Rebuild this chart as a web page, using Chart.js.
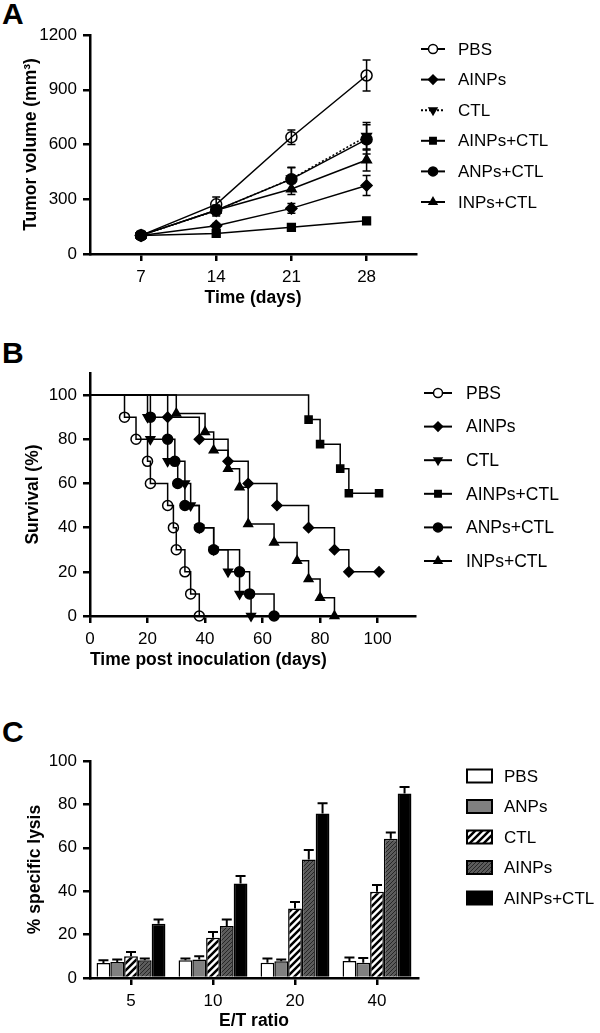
<!DOCTYPE html>
<html>
<head>
<meta charset="utf-8">
<script src="https://cdn.jsdelivr.net/npm/chart.js@4.4.0/dist/chart.umd.min.js"></script>
<style>
  html, body { margin: 0; padding: 0; background: #fff; width: 600px; height: 1033px; overflow: hidden; }
  .panel { position: absolute; left: 0; width: 600px; }
  .letter { position: absolute; left: 2px; font: bold 30px "Liberation Sans", Arial, sans-serif; line-height: 1; color: #000; }
</style>
</head>
<body>
<div class="letter" style="top:-1px">A</div>
<div class="letter" style="top:338px">B</div>
<div class="letter" style="top:717px">C</div>
<div class="panel" style="top:0;height:330px"><canvas id="chartA"></canvas></div>
<div class="panel" style="top:335px;height:340px"><canvas id="chartB"></canvas></div>
<div class="panel" style="top:690px;height:343px"><canvas id="chartC"></canvas></div>
<script>
// ---------- data ----------
const groupNames = ['PBS', 'AINPs', 'CTL', 'AINPs+CTL', 'ANPs+CTL', 'INPs+CTL'];

// A: tumour volume (mm3) by day
const daysA = [7, 14, 21, 28];
const volPBS      = [102, 272, 640, 978];
const volAINPs    = [102, 155, 250, 375];
const volCTL      = [102, 238, 412, 645];
const volAINPsCTL = [102, 113, 146, 182];
const volANPsCTL  = [102, 240, 410, 628];
const volINPsCTL  = [102, 240, 356, 515];
const errPBS      = [5, 40, 40, 85];
const errAINPs    = [5, 12, 27, 55];
const errCTL      = [5, 30, 60, 75];
const errAINPsCTL = [3, 8, 8, 10];
const errANPsCTL  = [5, 25, 65, 80];
const errINPsCTL  = [5, 20, 30, 60];

// B: survival, event days and survival (%) after each event
const ticksB_x  = [0, 20, 40, 60, 80, 100];
const ticksB_y  = [0, 20, 40, 60, 80, 100];
const tPBS      = [12, 16, 20, 21, 27, 29, 30, 33, 35, 38];
const sPBS      = [90, 80, 70, 60, 50, 40, 30, 20, 10, 0];
const tAINPs    = [27, 38, 48, 55, 65, 76, 85, 90];
const sAINPs    = [90, 80, 70, 60, 50, 40, 30, 20];
const tCTL      = [20, 21, 27, 33, 35, 38, 43, 48, 52, 56];
const sCTL      = [90, 80, 70, 60, 50, 40, 30, 20, 10, 0];
const tAINPsCTL = [76, 80, 87, 90];
const sAINPsCTL = [88.9, 77.8, 66.7, 55.6];
const tANPsCTL  = [21, 27, 29.5, 30.5, 33, 38, 43, 52, 55.5, 64];
const sANPsCTL  = [90, 80, 70, 60, 50, 40, 30, 20, 10, 0];
const tINPsCTL  = [30, 40, 43, 48, 52, 55, 64, 72, 76, 80, 85];
const sINPsCTL  = [91.7, 83.3, 75, 66.7, 58.3, 41.7, 33.3, 25, 16.7, 8.3, 0];
const censorDay = 100.5; // last follow-up for surviving groups

// C: % specific lysis by E/T ratio
const ratios = ['5', '10', '20', '40'];
const lysisNames = ['PBS', 'ANPs', 'CTL', 'AINPs', 'AINPs+CTL'];
const lysPBS      = [6.9, 8.2, 7.0, 7.8];
const lysANPs     = [7.4, 8.5, 7.7, 7.0];
const lysCTL      = [10, 18.6, 32, 39.7];
const lysAINPs    = [8.2, 24, 54.6, 64.2];
const lysAINPsCTL = [25, 43.5, 75.8, 85];
const sdPBS      = [1.3, 0.8, 2.0, 1.6];
const sdANPs     = [1.1, 1.5, 0.8, 2.2];
const sdCTL      = [2.0, 2.6, 3.0, 3.1];
const sdAINPs    = [0.8, 3.0, 4.4, 2.8];
const sdAINPsCTL = [2.0, 3.5, 4.7, 3.0];

// ---------- styling helpers ----------
const FONT = '"Liberation Sans", Arial, sans-serif';
const TICK_SIZE = 17;
const markers = [
  {pointStyle: 'circle',   rotation: 0,   fill: 'rgba(0,0,0,0)'},
  {pointStyle: 'rectRot',  rotation: 0,   fill: '#000'},
  {pointStyle: 'triangle', rotation: 180, fill: '#000'},
  {pointStyle: 'rect',     rotation: 0,   fill: '#000'},
  {pointStyle: 'circle',   rotation: 0,   fill: '#000'},
  {pointStyle: 'triangle', rotation: 0,   fill: '#000'}
];

function hatch(bg, fg, size, lw) {
  const c = document.createElement('canvas');
  c.width = c.height = size;
  const g = c.getContext('2d');
  g.fillStyle = bg;
  g.fillRect(0, 0, size, size);
  g.strokeStyle = fg;
  g.lineWidth = lw;
  g.beginPath();
  g.moveTo(-1, size + 1); g.lineTo(size + 1, -1);
  g.moveTo(-1, 1); g.lineTo(1, -1);
  g.moveTo(size - 1, size + 1); g.lineTo(size + 1, size - 1);
  g.stroke();
  return g.createPattern(c, 'repeat');
}

function tickOpts(extra) {
  return Object.assign({color: '#000', font: {family: FONT, size: TICK_SIZE}, padding: 6}, extra);
}

function axisCommon(extra) {
  return Object.assign({
    grid: {drawOnChartArea: false, tickLength: 7, lineWidth: 2.5, color: '#000'},
    border: {width: 2.5, color: '#000'},
    ticks: tickOpts({})
  }, extra);
}

function title(text, pad, align) {
  return {display: true, text: text, color: '#000', align: align || 'center',
    font: {family: FONT, size: 17.5, weight: 'bold'}, padding: pad};
}

// error bars (both ways, or up only for bars)
const errorBars = {
  id: 'errorBars',
  beforeDatasetsDraw(chart, args, opts) {
    const ctx = chart.ctx;
    ctx.save();
    ctx.strokeStyle = '#000';
    ctx.lineWidth = opts.lineWidth || 1.5;
    chart.data.datasets.forEach((ds, i) => {
      if (!ds.errors) return;
      const meta = chart.getDatasetMeta(i);
      const ys = chart.scales[meta.yAxisID];
      meta.data.forEach((el, j) => {
        const raw = ds.data[j];
        const v = typeof raw === 'object' ? raw.y : raw;
        const e = ds.errors[j];
        const top = ys.getPixelForValue(v + e);
        const bot = opts.upOnly ? el.y : ys.getPixelForValue(v - e);
        const w = opts.cap || 4;
        ctx.beginPath();
        ctx.moveTo(el.x, bot); ctx.lineTo(el.x, top);
        ctx.moveTo(el.x - w, top); ctx.lineTo(el.x + w, top);
        if (!opts.upOnly) { ctx.moveTo(el.x - w, bot); ctx.lineTo(el.x + w, bot); }
        ctx.stroke();
      });
    });
    ctx.restore();
  }
};

// legend at right side
const sideLegend = {
  id: 'sideLegend',
  afterDraw(chart, args, o) {
    const ctx = chart.ctx;
    ctx.save();
    chart.data.datasets.forEach((ds, i) => {
      const y = o.top + i * o.gap;
      if (o.kind === 'box') {
        ctx.fillStyle = ds.backgroundColor;
        ctx.fillRect(o.x0, y - o.h / 2, o.x1 - o.x0, o.h);
        ctx.strokeStyle = '#000';
        ctx.lineWidth = 2;
        ctx.strokeRect(o.x0, y - o.h / 2, o.x1 - o.x0, o.h);
      } else {
        const dotted = ds.borderDash && ds.borderDash.length > 0;
        ctx.strokeStyle = '#000';
        ctx.lineWidth = 2;
        ctx.setLineDash(dotted ? [2, 2] : []);
        ctx.beginPath();
        ctx.moveTo(o.x0, y); ctx.lineTo(o.x1, y);
        ctx.stroke();
        ctx.setLineDash([]);
        ctx.fillStyle = ds.pointBackgroundColor === 'rgba(0,0,0,0)' ? '#fff' : '#000';
        ctx.lineWidth = 1.5;
        Chart.helpers.drawPoint(ctx, {pointStyle: ds.pointStyle, rotation: ds.pointRotation, radius: o.r, borderWidth: 1.5}, (o.x0 + o.x1) / 2, y);
      }
      ctx.fillStyle = '#000';
      ctx.font = o.fontSize + 'px ' + FONT;
      ctx.textBaseline = 'middle';
      ctx.textAlign = 'left';
      ctx.fillText(ds.label, o.textX, y + 1);
    });
    ctx.restore();
  }
};

const baseOpts = {
  animation: false,
  responsive: true,
  maintainAspectRatio: false,
  events: []
};

// ---------- A ----------
const volA = [volPBS, volAINPs, volCTL, volAINPsCTL, volANPsCTL, volINPsCTL];
const errA = [errPBS, errAINPs, errCTL, errAINPsCTL, errANPsCTL, errINPsCTL];
new Chart(document.getElementById('chartA'), {
  type: 'line',
  data: {
    datasets: groupNames.map((name, i) => ({
      label: name,
      data: daysA.map((d, j) => ({x: d, y: volA[i][j]})),
      errors: errA[i],
      borderColor: '#000',
      borderWidth: 1.5,
      borderDash: i === 2 ? [2, 2] : [],
      pointStyle: markers[i].pointStyle,
      pointRotation: markers[i].rotation,
      pointRadius: 5.5,
      pointBorderWidth: 1.5,
      pointBorderColor: '#000',
      pointBackgroundColor: markers[i].fill,
      clip: false
    }))
  },
  options: Object.assign({}, baseOpts, {
    layout: {padding: {top: 35, right: 184, left: 0, bottom: 0}},
    scales: {
      x: axisCommon({
        type: 'linear', min: 2.25, max: 32.6,
        afterBuildTicks: s => { s.ticks = daysA.map(v => ({value: v})); },
        afterFit: s => { s.height = 76; },
        title: title('Time (days)', {top: 0, bottom: 21})
      }),
      y: axisCommon({
        type: 'linear', min: 0, max: 1200,
        ticks: tickOpts({stepSize: 300, callback: v => String(v)}),
        afterFit: s => { s.width = 90; },
        title: title('Tumor volume (mm³)', {top: 21, bottom: 0})
      })
    },
    plugins: {
      legend: {display: false}, tooltip: {enabled: false},
      errorBars: {cap: 4, lineWidth: 1.5},
      sideLegend: {top: 49, gap: 30.6, x0: 421, x1: 445, textX: 458, r: 4.5, fontSize: 17}
    }
  }),
  plugins: [errorBars, sideLegend]
});

// ---------- B ----------
function kmPoints(t, s, end) {
  const pts = [{x: 0, y: 100}];
  t.forEach((d, i) => pts.push({x: d, y: s[i]}));
  if (end !== undefined) pts.push({x: end, y: s[s.length - 1]});
  return pts;
}
const kmData = [
  kmPoints(tPBS, sPBS),
  kmPoints(tAINPs, sAINPs, censorDay),
  kmPoints(tCTL, sCTL),
  kmPoints(tAINPsCTL, sAINPsCTL, censorDay),
  kmPoints(tANPsCTL, sANPsCTL),
  kmPoints(tINPsCTL, sINPsCTL)
];
new Chart(document.getElementById('chartB'), {
  type: 'line',
  data: {
    datasets: groupNames.map((name, i) => ({
      label: name,
      data: kmData[i],
      stepped: 'before',
      borderColor: '#000',
      borderWidth: 1.5,
      pointStyle: markers[i].pointStyle,
      pointRotation: markers[i].rotation,
      pointRadius: kmData[i].map((p, j) => j === 0 ? 0 : 5),
      pointBorderWidth: 1.5,
      pointBorderColor: '#000',
      pointBackgroundColor: markers[i].fill,
      clip: false
    }))
  },
  options: Object.assign({}, baseOpts, {
    layout: {padding: {top: 38, right: 185, left: 0, bottom: 0}},
    scales: {
      x: axisCommon({
        type: 'linear', min: 0, max: 113,
        afterBuildTicks: s => { s.ticks = ticksB_x.map(v => ({value: v})); },
        afterFit: s => { s.height = 59; },
        title: title('Time post inoculation (days)', {top: 0, bottom: 4}, 'start')
      }),
      y: axisCommon({
        type: 'linear', min: 0, max: 110,
        afterBuildTicks: s => { s.ticks = ticksB_y.map(v => ({value: v})); },
        afterFit: s => { s.width = 90; },
        title: title('Survival (%)', {top: 23, bottom: 0})
      })
    },
    plugins: {
      legend: {display: false}, tooltip: {enabled: false},
      sideLegend: {top: 58, gap: 33.6, x0: 424, x1: 452, textX: 466, r: 4.5, fontSize: 17.5}
    }
  }),
  plugins: [sideLegend]
});

// ---------- C ----------
const lysC = [lysPBS, lysANPs, lysCTL, lysAINPs, lysAINPsCTL];
const sdC = [sdPBS, sdANPs, sdCTL, sdAINPs, sdAINPsCTL];
const fillsC = ['#fff', '#808080', hatch('#fff', '#000', 7, 2.5), hatch('#5c5c5c', '#262626', 4, 1), '#000'];
new Chart(document.getElementById('chartC'), {
  type: 'bar',
  data: {
    labels: ratios,
    datasets: lysisNames.map((name, i) => ({
      label: name,
      data: lysC[i],
      errors: sdC[i],
      backgroundColor: fillsC[i],
      borderColor: '#000',
      borderWidth: 1.5,
      barPercentage: 1,
      categoryPercentage: 0.84
    }))
  },
  options: Object.assign({}, baseOpts, {
    layout: {padding: {top: 71, right: 182, left: 0, bottom: 0}},
    scales: {
      x: axisCommon({
        type: 'category',
        grid: {drawOnChartArea: false, tickLength: 7, lineWidth: 2.5, color: '#000', offset: false},
        afterFit: s => { s.height = 55; },
        title: title('E/T ratio', {top: 0, bottom: 1})
      }),
      y: axisCommon({
        type: 'linear', min: 0, max: 100,
        ticks: tickOpts({stepSize: 20}),
        afterFit: s => { s.width = 90; },
        title: title('% specific lysis', {top: 25, bottom: 0})
      })
    },
    plugins: {
      legend: {display: false}, tooltip: {enabled: false},
      errorBars: {cap: 5, lineWidth: 2, upOnly: true},
      sideLegend: {kind: 'box', top: 86, gap: 30.5, x0: 467, x1: 492, h: 13, textX: 504, fontSize: 17}
    }
  }),
  plugins: [errorBars, sideLegend]
});
</script>
</body>
</html>
